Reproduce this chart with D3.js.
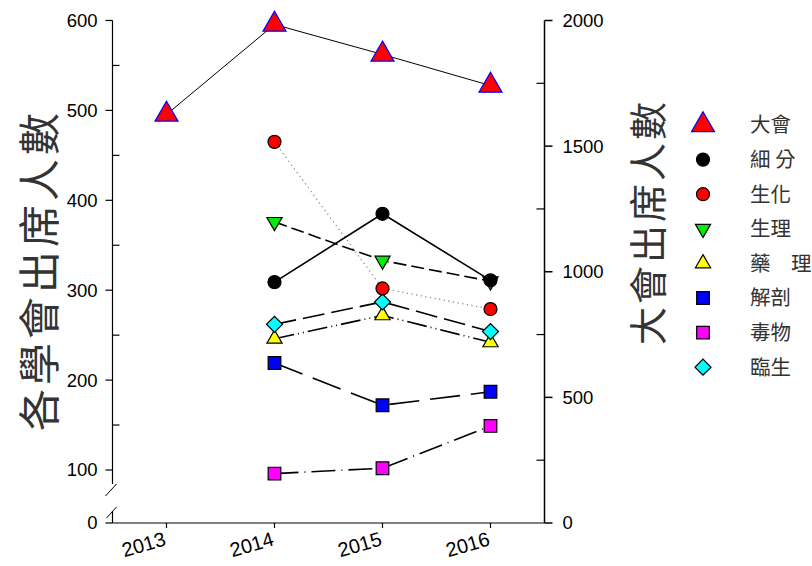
<!DOCTYPE html>
<html>
<head>
<meta charset="utf-8">
<script src="https://cdn.jsdelivr.net/npm/d3@7"></script>
<style>
  html, body { margin: 0; padding: 0; background: #fff; }
  svg { display: block; }
</style>
</head>
<body>
<svg id="chart" width="812" height="566"></svg>
<script>
// ---- data ----
const years = ["2013", "2014", "2015", "2016"];
const daHui     = [1626, 1984, 1865, 1741];   // right axis
const xiFen     = [null, 309, 385, 311];
const shengHua  = [null, 465, 302, 279];
const shengLi   = [null, 376, 333, 310];
const yaoLi     = [null, 246, 272, 242];
const jiePou    = [null, 219, 172, 187];
const duWu      = [null, 96, 102, 149];
const linSheng  = [null, 262, 287, 254];

const leftTicks = [100, 200, 300, 400, 500, 600];
const leftMinor = [150, 250, 350, 450, 550];
const rightTicks = [0, 500, 1000, 1500, 2000];
const rightMinor = [250, 750, 1250, 1750];
const leftTitle = "各學會出席人數";
const rightTitle = "大會出席人數";

const series = [
  {name: "大會",  values: daHui,    axis: "R", shape: "triUp",   fill: "#ff0000", stroke: "#0000ff", size: 229, dash: null, lw: 1, lc: "#000"},
  {name: "細 分", values: xiFen,    axis: "L", shape: "circle",  fill: "#000000", stroke: "#000", size: 133, dash: null, lw: 1.6, lc: "#000"},
  {name: "生化",  values: shengHua, axis: "L", shape: "circle",  fill: "#ff0000", stroke: "#000", size: 133, dash: "1.2,3.5", lw: 1.3, lc: "#888"},
  {name: "生理",  values: shengLi,  axis: "L", shape: "triDown", fill: "#00ee00", stroke: "#000", size: 100, dash: "13,5", lw: 1.6, lc: "#000"},
  {name: "藥　理", values: yaoLi,   axis: "L", shape: "triUp",   fill: "#ffff00", stroke: "#000", size: 100, dash: "20,4,1,4,1,4", lw: 1.6, lc: "#000"},
  {name: "解剖",  values: jiePou,   axis: "L", shape: "square",  fill: "#0000ff", stroke: "#000", size: 160, dash: "30,11", lw: 1.6, lc: "#000"},
  {name: "毒物",  values: duWu,     axis: "L", shape: "square",  fill: "#ff00ff", stroke: "#000", size: 160, dash: "24,6,1,6", lw: 1.6, lc: "#000"},
  {name: "臨生",  values: linSheng, axis: "L", shape: "diamond", fill: "#00ffff", stroke: "#000", size: 128, dash: "22,7", lw: 1.6, lc: "#000"}
];

// ---- scales ----
const svg = d3.select("#chart");
const axL = 112.5, axR = 544.5, yTop = 20.5, base = 523;
const x = d3.scalePoint().domain(years).range([axL, axR]).padding(0.5);
const yL = d3.scaleLinear().domain([100, 600]).range([470, yTop]);
const yR = d3.scaleLinear().domain([0, 2000]).range([base, yTop]);

const numFont = "'Liberation Sans', Arial, sans-serif";
const cjkFont = "'Noto Sans CJK TC', 'Noto Sans CJK SC', sans-serif";

// ---- left axis ----
const gL = svg.append("g");
gL.append("line").attr("x1", axL).attr("x2", axL).attr("y1", yTop).attr("y2", 484)
  .attr("stroke", "#000").attr("stroke-width", 1.2);
gL.append("line").attr("x1", axL).attr("x2", axL).attr("y1", 511).attr("y2", base)
  .attr("stroke", "#000").attr("stroke-width", 1.2);
// break marks
gL.append("line").attr("x1", axL - 7).attr("y1", 496).attr("x2", axL + 4).attr("y2", 484)
  .attr("stroke", "#000").attr("stroke-width", 1);
gL.append("line").attr("x1", axL - 6).attr("y1", 518).attr("x2", axL + 4).attr("y2", 507)
  .attr("stroke", "#000").attr("stroke-width", 1);
gL.selectAll(".lt").data(leftTicks).enter().append("line")
  .attr("x1", axL - 7).attr("x2", axL).attr("y1", d => yL(d)).attr("y2", d => yL(d))
  .attr("stroke", "#000").attr("stroke-width", 1.2);
gL.selectAll(".lm").data(leftMinor).enter().append("line")
  .attr("x1", axL).attr("x2", axL + 7).attr("y1", d => yL(d)).attr("y2", d => yL(d))
  .attr("stroke", "#000").attr("stroke-width", 1.2);
gL.selectAll(".ll").data(leftTicks).enter().append("text")
  .attr("x", axL - 15).attr("y", d => yL(d)).attr("dy", "0.35em")
  .attr("text-anchor", "end").attr("font-family", numFont).attr("font-size", 18.5)
  .text(d => d);
// zero tick
gL.append("line").attr("x1", axL - 7).attr("x2", axL).attr("y1", base).attr("y2", base)
  .attr("stroke", "#000").attr("stroke-width", 1.2);
gL.append("text").attr("x", axL - 15).attr("y", base).attr("dy", "0.35em")
  .attr("text-anchor", "end").attr("font-family", numFont).attr("font-size", 18.5).text("0");

// ---- right axis ----
const gR = svg.append("g");
gR.append("line").attr("x1", axR).attr("x2", axR).attr("y1", yTop).attr("y2", base)
  .attr("stroke", "#000").attr("stroke-width", 1.5);
gR.selectAll(".rt").data(rightTicks).enter().append("line")
  .attr("x1", axR).attr("x2", axR + 8).attr("y1", d => yR(d)).attr("y2", d => yR(d))
  .attr("stroke", "#000").attr("stroke-width", 1.5);
gR.selectAll(".rm").data(rightMinor).enter().append("line")
  .attr("x1", axR - 8).attr("x2", axR).attr("y1", d => yR(d)).attr("y2", d => yR(d))
  .attr("stroke", "#000").attr("stroke-width", 1.2);
gR.selectAll(".rl").data(rightTicks).enter().append("text")
  .attr("x", axR + 18).attr("y", d => yR(d)).attr("dy", "0.35em")
  .attr("text-anchor", "start").attr("font-family", numFont).attr("font-size", 18.5)
  .text(d => d);

// ---- bottom axis ----
const gB = svg.append("g");
gB.append("line").attr("x1", axL).attr("x2", axR).attr("y1", base).attr("y2", base)
  .attr("stroke", "#000").attr("stroke-width", 1.2);
gB.selectAll(".bt").data(years).enter().append("line")
  .attr("x1", d => x(d)).attr("x2", d => x(d)).attr("y1", base).attr("y2", base + 5)
  .attr("stroke", "#000").attr("stroke-width", 1.2);
gB.selectAll(".bl").data(years).enter().append("text")
  .attr("transform", d => `translate(${x(d) + 0.5},${base + 22}) rotate(-16)`)
  .attr("text-anchor", "end").attr("font-family", numFont).attr("font-size", 20)
  .text(d => d);

// ---- axis titles ----
svg.append("text")
  .attr("transform", "translate(40,270) rotate(-90)")
  .attr("text-anchor", "middle").attr("dy", "0.35em")
  .attr("font-family", cjkFont).attr("font-size", 42).attr("letter-spacing", 4)
  .attr("fill", "#333").text(leftTitle);
svg.append("text")
  .attr("transform", "translate(649,222) rotate(-90)")
  .attr("text-anchor", "middle").attr("dy", "0.35em")
  .attr("font-family", cjkFont).attr("font-size", 38).attr("letter-spacing", 3)
  .attr("fill", "#333").text(rightTitle);

// ---- symbols ----
function symPath(shape, size) {
  if (shape === "circle") return d3.symbol(d3.symbolCircle, size)();
  if (shape === "square" || shape === "diamond") return d3.symbol(d3.symbolSquare, size)();
  return d3.symbol(d3.symbolTriangle, size)();
}
function symRot(shape) {
  if (shape === "diamond") return 45;
  if (shape === "triDown") return 180;
  return 0;
}

// ---- lines and markers (draw bottom series first so top ones overlay) ----
const plot = svg.append("g");
const order = [6, 5, 4, 7, 3, 2, 1, 0];
order.forEach(i => {
  const s = series[i];
  const yS = s.axis === "R" ? yR : yL;
  const pts = years.map((yr, j) => ({yr, v: s.values[j]})).filter(p => p.v != null);
  const line = d3.line().x(p => x(p.yr)).y(p => yS(p.v));
  plot.append("path").attr("d", line(pts)).attr("fill", "none")
    .attr("stroke", s.lc).attr("stroke-width", s.lw)
    .attr("stroke-dasharray", s.dash);
});
order.forEach(i => {
  const s = series[i];
  const yS = s.axis === "R" ? yR : yL;
  const pts = years.map((yr, j) => ({yr, v: s.values[j]})).filter(p => p.v != null);
  plot.selectAll(null).data(pts).enter().append("path")
    .attr("d", symPath(s.shape, s.size))
    .attr("transform", p => `translate(${x(p.yr)},${yS(p.v)}) rotate(${symRot(s.shape)})`)
    .attr("fill", s.fill).attr("stroke", s.stroke).attr("stroke-width", 1.2);
});

// ---- legend ----
const leg = svg.append("g");
const legY0 = 125, legStep = 34.6;
series.forEach((s, i) => {
  const yy = legY0 + i * legStep;
  leg.append("path").attr("d", symPath(s.shape, s.size))
    .attr("transform", `translate(703,${yy}) rotate(${symRot(s.shape)})`)
    .attr("fill", s.fill).attr("stroke", s.stroke).attr("stroke-width", 1.2);
  leg.append("text").attr("x", 750).attr("y", yy).attr("dy", "0.36em")
    .attr("font-family", cjkFont).attr("font-size", 20.5).attr("fill", "#333")
    .text(s.name);
});
</script>
</body>
</html>
